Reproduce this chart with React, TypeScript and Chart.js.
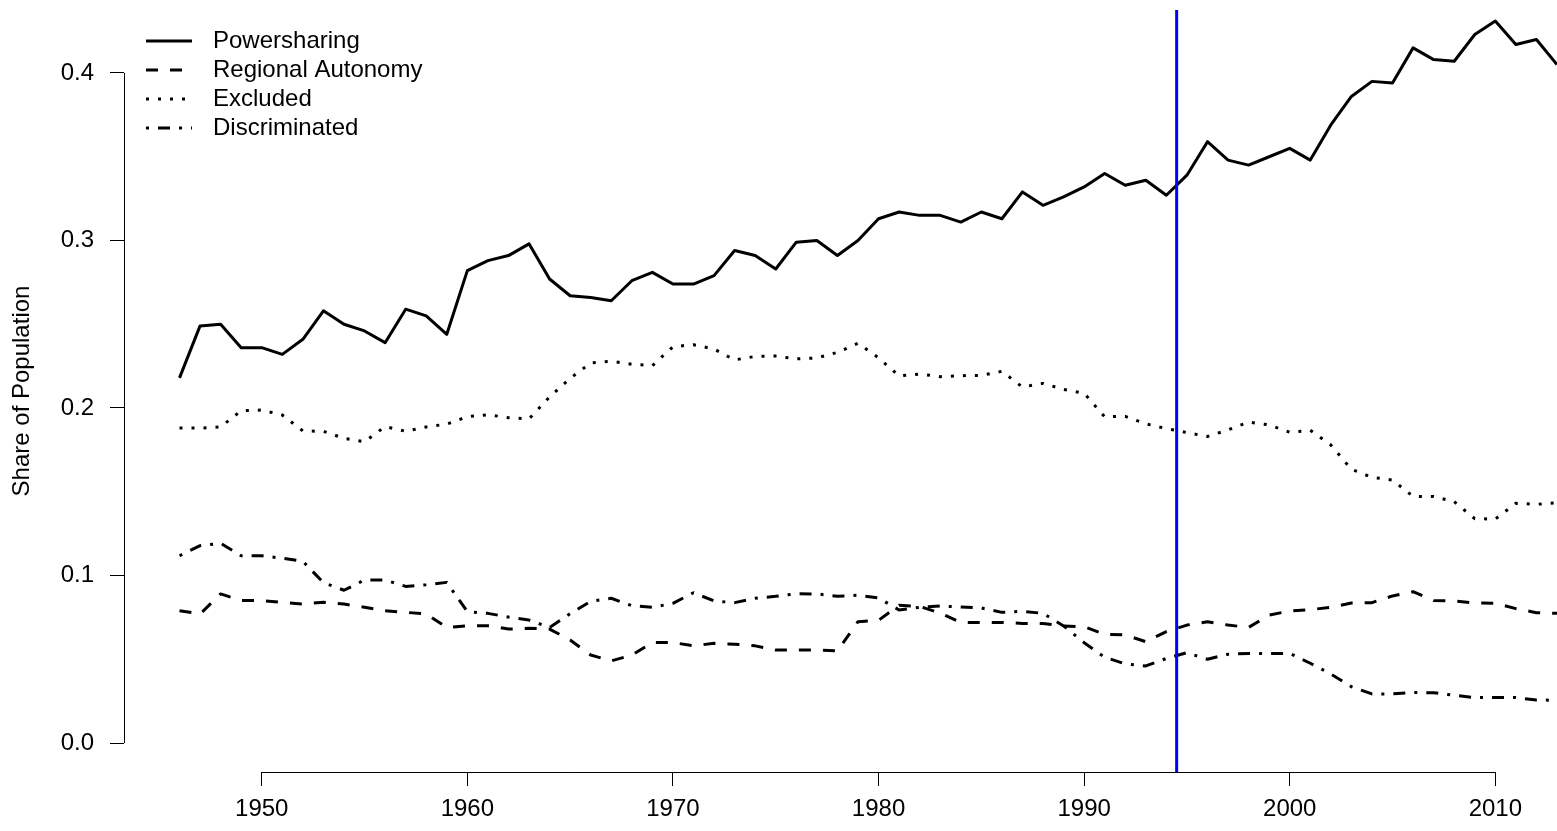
import React, { useEffect, useRef } from "react";
import { Chart, registerables } from "chart.js";

Chart.register(...registerables);

const YEARS = [
  1946, 1947, 1948, 1949, 1950, 1951, 1952, 1953, 1954, 1955, 1956, 1957, 1958, 1959,
  1960, 1961, 1962, 1963, 1964, 1965, 1966, 1967, 1968, 1969, 1970, 1971, 1972, 1973,
  1974, 1975, 1976, 1977, 1978, 1979, 1980, 1981, 1982, 1983, 1984, 1985, 1986, 1987,
  1988, 1989, 1990, 1991, 1992, 1993, 1994, 1995, 1996, 1997, 1998, 1999, 2000, 2001,
  2002, 2003, 2004, 2005, 2006, 2007, 2008, 2009, 2010, 2011, 2012, 2013,
];

const POWERSHARING = [
  0.218, 0.249, 0.250, 0.236, 0.236, 0.232, 0.241, 0.258, 0.250, 0.246, 0.239, 0.259, 0.255, 0.244,
  0.282, 0.288, 0.291, 0.298, 0.277, 0.267, 0.266, 0.264, 0.276, 0.281, 0.274, 0.274, 0.279, 0.294,
  0.291, 0.283, 0.299, 0.300, 0.291, 0.300, 0.313, 0.317, 0.315, 0.315, 0.311, 0.317, 0.313, 0.329,
  0.321, 0.326, 0.332, 0.340, 0.333, 0.336, 0.327, 0.339, 0.359, 0.348, 0.345, 0.350, 0.355, 0.348,
  0.369, 0.386, 0.395, 0.394, 0.415, 0.408, 0.407, 0.423, 0.431, 0.417, 0.420, 0.405,
];

const REGIONAL_AUTONOMY = [
  0.079, 0.077, 0.089, 0.085, 0.085, 0.084, 0.083, 0.084, 0.083, 0.081, 0.079, 0.078, 0.077, 0.069,
  0.070, 0.070, 0.068, 0.0685, 0.068, 0.0615, 0.0525, 0.049, 0.0525, 0.060, 0.060, 0.058, 0.0595, 0.059,
  0.058, 0.0555, 0.0555, 0.0555, 0.055, 0.0724, 0.0732, 0.0822, 0.0815, 0.0776, 0.072, 0.072, 0.072, 0.0714,
  0.0714, 0.0699, 0.0694, 0.0649, 0.0645, 0.0605, 0.0665, 0.0704, 0.0724, 0.0704, 0.069, 0.0764, 0.0788, 0.0796,
  0.081, 0.0836, 0.0838, 0.0878, 0.0903, 0.085, 0.0848, 0.0836, 0.0834, 0.0802, 0.0778, 0.0774,
];

const EXCLUDED = [
  0.188, 0.188, 0.1887, 0.1984, 0.1988, 0.1958, 0.1863, 0.1861, 0.1819, 0.1799, 0.1889, 0.1861, 0.1887, 0.1904,
  0.1948, 0.196, 0.1942, 0.1935, 0.2066, 0.2177, 0.2269, 0.2279, 0.2261, 0.2253, 0.2366, 0.2378, 0.2352, 0.2287,
  0.2308, 0.231, 0.2293, 0.2299, 0.2332, 0.2386, 0.230, 0.2191, 0.2203, 0.2187, 0.2193, 0.2195, 0.2219, 0.2125,
  0.2147, 0.2111, 0.2088, 0.1948, 0.195, 0.1906, 0.1877, 0.1853, 0.183, 0.1869, 0.1916, 0.1899, 0.1855, 0.1867,
  0.1779, 0.1634, 0.1586, 0.157, 0.1472, 0.1472, 0.1441, 0.1339, 0.1337, 0.1431, 0.1425, 0.1435,
];

const DISCRIMINATED = [
  0.1118, 0.1178, 0.1192, 0.1118, 0.1118, 0.1103, 0.1085, 0.0957, 0.0912, 0.0973, 0.0973, 0.0935, 0.0945, 0.0959,
  0.0784, 0.0774, 0.0752, 0.0734, 0.069, 0.0772, 0.0846, 0.0864, 0.082, 0.081, 0.0834, 0.0897, 0.0848, 0.0838,
  0.0864, 0.0876, 0.0891, 0.089, 0.0876, 0.0882, 0.0866, 0.0794, 0.081, 0.0818, 0.0812, 0.0806, 0.078, 0.0786,
  0.0774, 0.0699, 0.0599, 0.0512, 0.0472, 0.046, 0.0505, 0.0539, 0.05, 0.053, 0.0535, 0.0535, 0.0535, 0.0476,
  0.0412, 0.0336, 0.0293, 0.0293, 0.0302, 0.03, 0.0285, 0.0271, 0.0271, 0.0271, 0.0257, 0.0255,
];

const SERIES_LABELS = ["Powersharing", "Regional Autonomy", "Excluded", "Discriminated"];
const X_TICKS = [1950, 1960, 1970, 1980, 1990, 2000, 2010];
const Y_TICKS = [0, 0.1, 0.2, 0.3, 0.4];
const CUTOFF_YEAR = 1994.5;
const Y_TITLE = "Share of Population";

const FONT = "'Liberation Sans', Arial, Helvetica, sans-serif";
const DASHES: number[][] = [[], [12, 12], [3, 9], [3, 9, 12, 9]];

const toPoints = (vals: number[]) => vals.map((v, i) => ({ x: YEARS[i], y: v }));

const rPlotPlugin = {
  id: "rPlot",
  afterDatasetsDraw(chart: any) {
    const { ctx, chartArea, scales } = chart;
    const xs = scales.x;
    ctx.save();
    const bx = xs.getPixelForValue(CUTOFF_YEAR);
    ctx.strokeStyle = "#0000FF";
    ctx.lineWidth = 3;
    ctx.beginPath();
    ctx.moveTo(bx, chartArea.top);
    ctx.lineTo(bx, chartArea.bottom);
    ctx.stroke();
    ctx.restore();
  },
  afterDraw(chart: any) {
    const { ctx, chartArea, scales } = chart;
    const xs = scales.x;
    const ys = scales.y;
    ctx.save();
    ctx.strokeStyle = "#000";
    ctx.lineWidth = 1;
    const ax = Math.round(chartArea.left) + 0.5;
    ctx.beginPath();
    ctx.moveTo(ax, ys.getPixelForValue(Y_TICKS[0]));
    ctx.lineTo(ax, ys.getPixelForValue(Y_TICKS[Y_TICKS.length - 1]));
    ctx.stroke();
    const ay = Math.round(chartArea.bottom) + 0.5;
    ctx.beginPath();
    ctx.moveTo(xs.getPixelForValue(X_TICKS[0]), ay);
    ctx.lineTo(xs.getPixelForValue(X_TICKS[X_TICKS.length - 1]), ay);
    ctx.stroke();

    // legend
    const lx = 146;
    const lineLen = 46;
    const tx = 213;
    const y0 = 41;
    const step = 29;
    ctx.font = `24px ${FONT}`;
    ctx.textBaseline = "middle";
    ctx.textAlign = "left";
    ctx.fillStyle = "#000";
    SERIES_LABELS.forEach((label, i) => {
      const yy = y0 + i * step;
      ctx.save();
      ctx.lineWidth = 3;
      ctx.lineCap = "butt";
      ctx.setLineDash(DASHES[i]);
      ctx.beginPath();
      ctx.moveTo(lx, yy);
      ctx.lineTo(lx + lineLen, yy);
      ctx.stroke();
      ctx.restore();
      ctx.fillText(label, tx, yy);
    });
    ctx.restore();
  },
};

export default function App() {
  const ref = useRef<HTMLCanvasElement | null>(null);

  useEffect(() => {
    document.body.style.margin = "0";
    const canvas = ref.current;
    if (!canvas) return;
    const series = [POWERSHARING, REGIONAL_AUTONOMY, EXCLUDED, DISCRIMINATED];
    const chart = new Chart(canvas, {
      type: "line",
      data: {
        datasets: series.map((vals, i) => ({
          label: SERIES_LABELS[i],
          data: toPoints(vals),
          borderColor: "#000",
          backgroundColor: "#000",
          borderWidth: 3,
          borderDash: DASHES[i],
          borderCapStyle: "butt",
          borderJoinStyle: "round",
          pointRadius: 0,
          tension: 0,
          fill: false,
        })),
      },
      options: {
        responsive: false,
        animation: false,
        devicePixelRatio: 1,
        layout: { padding: { top: 10, right: 0, bottom: 0, left: 0 } },
        plugins: {
          legend: { display: false },
          tooltip: { enabled: false },
        },
        scales: {
          x: {
            type: "linear",
            min: 1943.3,
            max: 2013,
            afterBuildTicks: (scale: any) => {
              scale.ticks = X_TICKS.map((value) => ({ value }));
            },
            afterFit: (scale: any) => {
              scale.height = 59;
              scale.paddingLeft = 0;
              scale.paddingRight = 0;
              scale.paddingTop = 0;
              scale.paddingBottom = 0;
            },
            border: { display: false },
            grid: {
              drawOnChartArea: false,
              drawTicks: true,
              tickLength: 14,
              color: "#000",
              lineWidth: 1,
            },
            ticks: {
              autoSkip: false,
              maxRotation: 0,
              padding: 11,
              color: "#000",
              font: { family: FONT, size: 24, lineHeight: 1 },
              callback: (v: any) => String(v),
            },
          },
          y: {
            type: "linear",
            min: -0.017313,
            max: 0.43761,
            afterBuildTicks: (scale: any) => {
              scale.ticks = Y_TICKS.map((value) => ({ value }));
            },
            afterFit: (scale: any) => {
              scale.width = 124;
              scale.paddingLeft = 0;
              scale.paddingRight = 0;
              scale.paddingTop = 0;
              scale.paddingBottom = 0;
            },
            border: { display: false },
            grid: {
              drawOnChartArea: false,
              drawTicks: true,
              tickLength: 14,
              color: "#000",
              lineWidth: 1,
            },
            ticks: {
              autoSkip: false,
              padding: 16,
              color: "#000",
              font: { family: FONT, size: 24, lineHeight: 1 },
              callback: (v: any) => Number(v).toFixed(1),
            },
            title: {
              display: true,
              text: Y_TITLE,
              color: "#000",
              font: { family: FONT, size: 24, lineHeight: 1 },
              padding: { top: 10, bottom: 0 },
            },
          },
        },
      },
      plugins: [rPlotPlugin],
    } as any);
    return () => chart.destroy();
  }, []);

  return (
    <canvas
      ref={ref}
      width={1557}
      height={831}
      style={{ display: "block", position: "fixed", left: 0, top: 0, width: 1557, height: 831 }}
    />
  );
}
